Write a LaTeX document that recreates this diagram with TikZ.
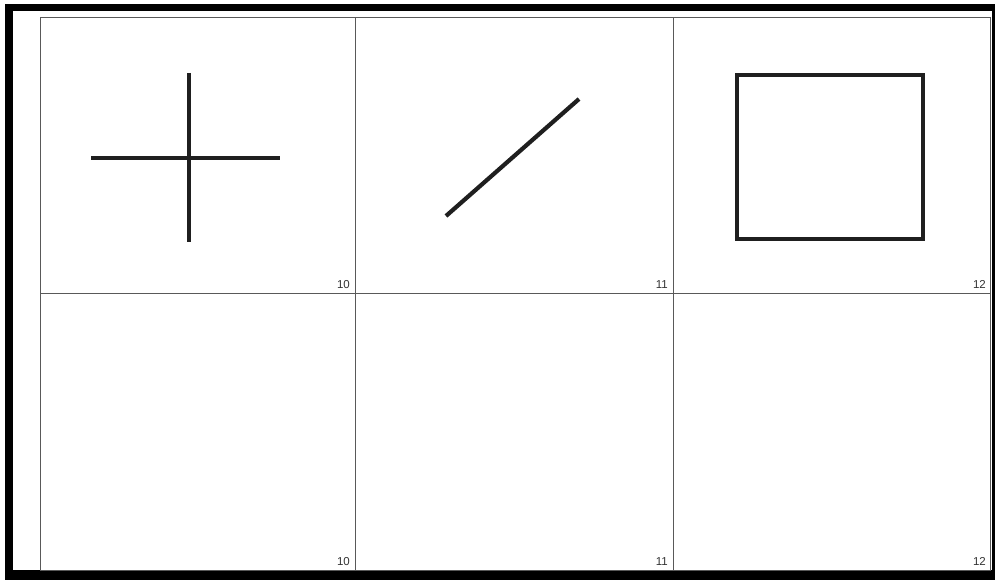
\documentclass[tikz,border=0pt]{standalone}
\usepackage{fontspec}
\setmainfont{Liberation Sans}
\begin{document}
\begin{tikzpicture}[x=1pt,y=-1pt,
  gridline/.style={draw=black!65,line width=1pt},
  figline/.style={draw=black!88,line width=4.2pt},
  celllabel/.style={font=\fontsize{11.5}{12}\selectfont,text=black!80,anchor=base east,inner sep=0pt}]
\useasboundingbox (0,0) rectangle (995,580);
% scanned page frame
\fill[black] (5,4) rectangle (995,580);
\fill[white] (13,11) rectangle (992,570);
% grid
\draw[gridline] (40,18) rectangle (990,570);
\draw[gridline] (40,293) -- (990,293);
\draw[gridline] (355,18) -- (355,570);
\draw[gridline] (673,18) -- (673,570);
% labels
\node[celllabel] (l1) at (350,288) {10};
\node[celllabel] (l2) at (668,288) {11};
\node[celllabel] (l3) at (986,288) {12};
\node[celllabel] (l4) at (350,565) {10};
\node[celllabel] (l5) at (668,565) {11};
\node[celllabel] (l6) at (986,565) {12};
% cross
\draw[figline] (189,73) -- (189,242);
\draw[figline] (91,158) -- (280,158);
% diagonal
\draw[figline] (446,216) -- (579,99);
% square
\draw[figline] (737,75) rectangle (923,239);
\end{tikzpicture}
\end{document}
